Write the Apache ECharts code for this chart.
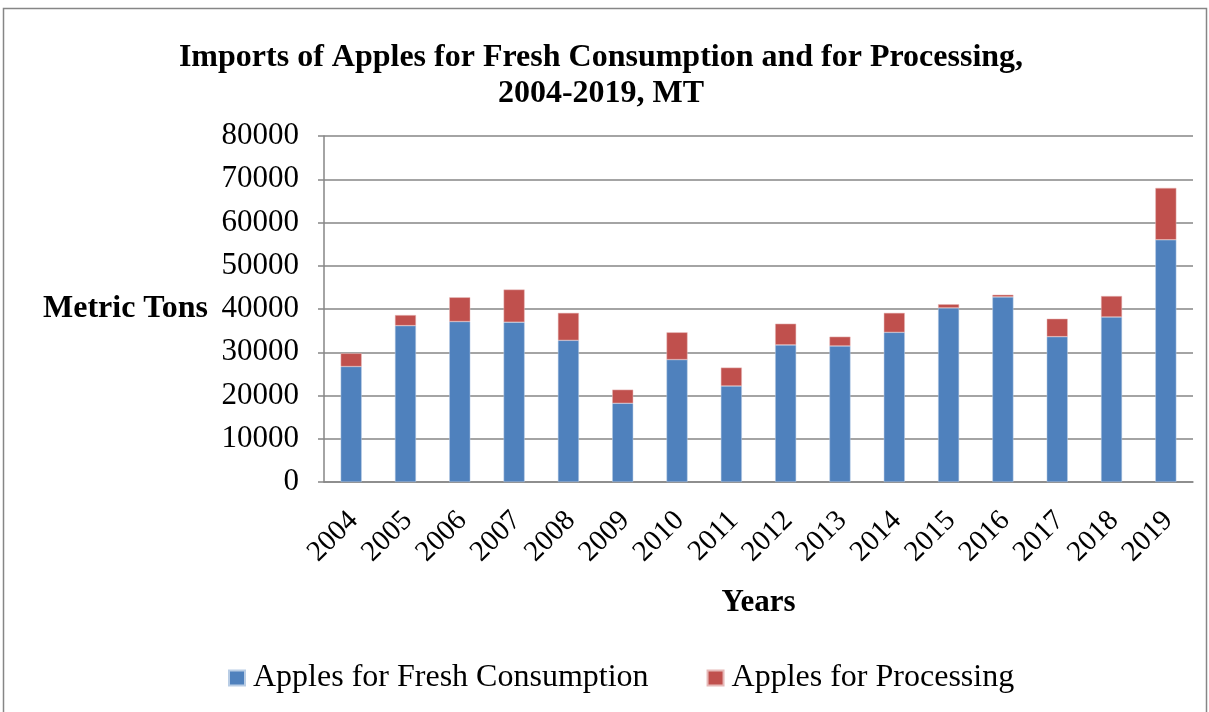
<!DOCTYPE html>
<html>
<head>
<meta charset="utf-8">
<script src="https://cdn.jsdelivr.net/npm/echarts@6/dist/echarts.min.js"></script>
<style>
  html, body { margin: 0; padding: 0; background: #fff; }
  #chart { width: 1209px; height: 712px; }
</style>
</head>
<body>
<div id="chart"></div>
<script>
// data
const years = ['2004', '2005', '2006', '2007', '2008', '2009', '2010', '2011',
  '2012', '2013', '2014', '2015', '2016', '2017', '2018', '2019'];
const freshConsumption = [26700, 36150, 37100, 36950, 32750, 18200, 28300, 22200,
  31700, 31450, 34600, 40250, 42800, 33600, 38150, 56000];
const processing = [3050, 2450, 5600, 7550, 6350, 3150, 6300, 4250,
  4900, 2150, 4500, 850, 500, 4150, 4850, 12000];
const yTicks = { min: 0, max: 80000, interval: 10000 };

const chart = echarts.init(document.getElementById('chart'));
const font = 'Liberation Serif';

const option = {
  animation: false,
  textStyle: { fontFamily: font, color: '#000' },
  title: {
    text: 'Imports of Apples for Fresh Consumption and for Processing,\n2004-2019, MT',
    left: 596,
    textAlign: 'center',
    top: 35,
    textStyle: { fontFamily: font, fontSize: 32, fontWeight: 'bold', color: '#000', lineHeight: 36 }
  },
  legend: {
    top: 657,
    left: 223,
    itemWidth: 16,
    itemHeight: 15,
    itemGap: 58,
    icon: 'rect',
    textStyle: { fontFamily: font, fontSize: 32, color: '#000', padding: [0, 0, 0, 3] },
    data: ['Apples for Fresh Consumption', 'Apples for Processing']
  },
  grid: { left: 324, right: 16, top: 136, bottom: 230 },
  xAxis: {
    type: 'category',
    data: years,
    name: 'Years',
    nameLocation: 'middle',
    nameGap: 105,
    nameTextStyle: { fontFamily: font, fontSize: 31, fontWeight: 'bold', color: '#000' },
    axisLine: { lineStyle: { color: '#868686', width: 1.5 } },
    axisTick: { interval: 1, length: 7, lineStyle: { color: '#868686', width: 1.5 } },
    axisLabel: {
      interval: 0, rotate: 45, fontSize: 29, color: '#000',
      margin: 16, verticalAlign: 'top', padding: [0, 11, 0, 0]
    }
  },
  yAxis: {
    type: 'value',
    min: yTicks.min,
    max: yTicks.max,
    interval: yTicks.interval,
    name: 'Metric Tons',
    nameLocation: 'middle',
    nameRotate: 0,
    nameGap: 116,
    nameTextStyle: { fontFamily: font, fontSize: 32, fontWeight: 'bold', color: '#000', align: 'right' },
    axisLine: { show: true, lineStyle: { color: '#868686', width: 1.5 } },
    axisTick: { show: true, length: 6, lineStyle: { color: '#868686', width: 1.5 } },
    axisLabel: { fontSize: 31, color: '#000', margin: 25, formatter: v => String(v) },
    splitLine: { lineStyle: { color: '#868686', width: 1.5 } }
  },
  series: [
    {
      name: 'Apples for Fresh Consumption',
      type: 'bar',
      stack: 'total',
      barWidth: 21,
      data: freshConsumption,
      itemStyle: { color: '#4f81bd', borderColor: '#b9cde5', borderWidth: 0.5 }
    },
    {
      name: 'Apples for Processing',
      type: 'bar',
      stack: 'total',
      barWidth: 21,
      data: processing,
      itemStyle: { color: '#c0504d', borderColor: '#e6b9b8', borderWidth: 0.5 }
    }
  ],
  graphic: [
    {
      type: 'rect',
      shape: { x: 3.5, y: 8.5, width: 1203, height: 710 },
      style: { fill: 'none', stroke: '#868686', lineWidth: 1.5 },
      silent: true
    }
  ]
};

chart.setOption(option);
</script>
</body>
</html>
